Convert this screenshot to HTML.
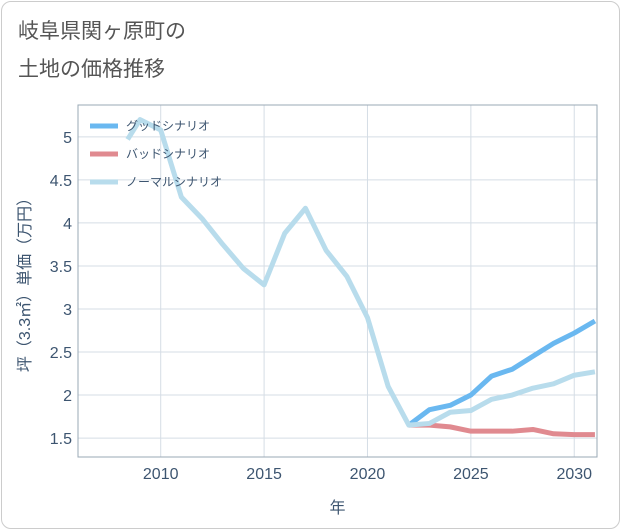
<!DOCTYPE html>
<html><head><meta charset="utf-8"><style>
body{margin:0;background:#fff;font-family:"Liberation Sans","Noto Sans CJK JP",sans-serif;}
#card{position:absolute;left:1px;top:1px;width:617px;height:526px;border:1px solid #ccc;border-radius:10px;background:#fff;}
</style></head><body>
<div id="card"></div>
<svg id="chart" width="621" height="530" style="position:absolute;left:0;top:0">
<text x="18" y="38" font-size="21" fill="#555" font-family="Liberation Sans,Noto Sans CJK JP,sans-serif">岐阜県関ヶ原町の</text>
<text x="18" y="76" font-size="21" fill="#555" font-family="Liberation Sans,Noto Sans CJK JP,sans-serif">土地の価格推移</text>
<g id="grid"></g><g id="series"></g><g id="axes"></g>
</svg>
<script>
const years=[2008.4,2009,2010,2011,2012,2013,2014,2015,2016,2017,2018,2019,2020,2021,2022,2023,2024,2025,2026,2027,2028,2029,2030,2031];
const normalVals=[4.97,5.2,5.08,4.3,4.05,3.75,3.47,3.28,3.88,4.17,3.68,3.38,2.9,2.1,1.65,1.67,1.8,1.82,1.95,2.0,2.08,2.13,2.23,2.27];
const futureYears=[2022,2023,2024,2025,2026,2027,2028,2029,2030,2031];
const goodVals=[1.65,1.83,1.88,2.0,2.22,2.3,2.45,2.6,2.72,2.86];
const badVals=[1.65,1.65,1.63,1.58,1.58,1.58,1.6,1.55,1.54,1.54];
const xTicks=[2010,2015,2020,2025,2030];
const yTicks=[1.5,2,2.5,3,3.5,4,4.5,5];
const L=78,R=597,T=105,B=457,x0=2006,x1=2031.1,y0=1.28,y1=5.37;
const X=v=>L+(v-x0)/(x1-x0)*(R-L), Y=v=>B-(v-y0)/(y1-y0)*(B-T);
const NS='http://www.w3.org/2000/svg';
function mk(t,a,p){const e=document.createElementNS(NS,t);for(const k in a)e.setAttribute(k,a[k]);p.appendChild(e);return e;}
const grid=document.getElementById('grid'),ser=document.getElementById('series'),ax=document.getElementById('axes');
xTicks.forEach(t=>{const l=mk('line',{x1:X(t),x2:X(t),y1:T,y2:B,stroke:'#d5dde5'},grid);


const s=mk('text',{x:X(t),y:B+22,'font-size':16,fill:'#3d5570','text-anchor':'middle'},ax);s.textContent=t;

});
yTicks.forEach(t=>{const l=mk('line',{x1:L,x2:R,y1:Y(t),y2:Y(t),stroke:'#d5dde5'},grid);


const s=mk('text',{x:L-6,y:Y(t)+6,'font-size':16,fill:'#3d5570','text-anchor':'end'},ax);s.textContent=t;

});
const fr=mk('rect',{x:L,y:T,width:R-L,height:B-T,fill:'none',stroke:'#9aa8b5'},ax);


function line(xs,ys,c,n){const p=mk('polyline',{points:xs.map((v,i)=>X(v)+','+Y(ys[i])).join(' '),fill:'none',stroke:c,'stroke-width':5,'stroke-linejoin':'round'},ser);

}
line(futureYears,goodVals,'#6ab8f0','good-scenario-line');
line(futureYears,badVals,'#e08a90','bad-scenario-line');
line(years,normalVals,'#b8dcec','normal-scenario-line');
const leg=[['グッドシナリオ','#6ab8f0'],['バッドシナリオ','#e08a90'],['ノーマルシナリオ','#b8dcec']];
leg.forEach((d,i)=>{const y=126+i*28;const l=mk('line',{x1:90,x2:118,y1:y,y2:y,stroke:d[1],'stroke-width':5},ax);


const s=mk('text',{x:126,y:y+4,'font-size':12,fill:'#3d5570'},ax);s.textContent=d[0];

});
const xt=mk('text',{x:(L+R)/2,y:513,'font-size':16,fill:'#3d5570','text-anchor':'middle'},ax);xt.textContent='年';


const yt=mk('text',{x:0,y:0,'font-size':16,fill:'#3d5570','text-anchor':'middle',transform:'translate(30,'+((T+B)/2)+') rotate(-90)'},ax);yt.textContent='坪（3.3㎡）単価（万円）';


</script>
</body></html>
